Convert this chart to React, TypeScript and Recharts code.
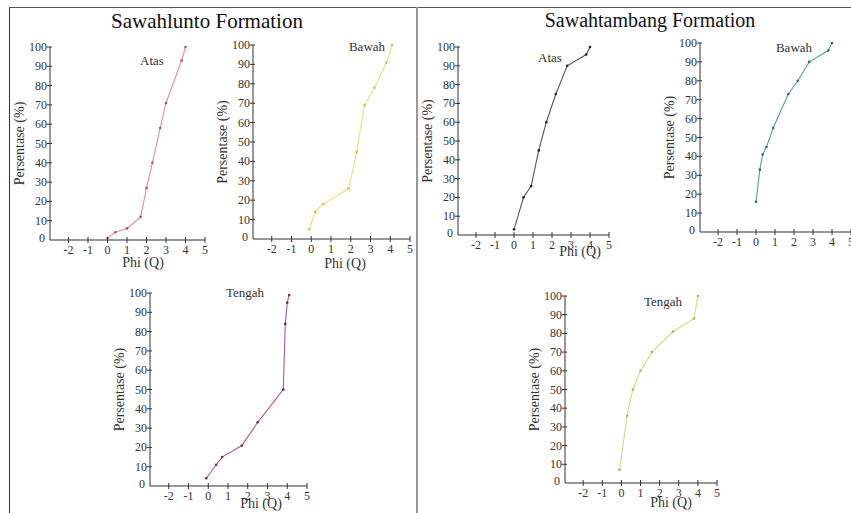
import { LineChart, Line, XAxis, YAxis } from 'recharts'

// grain size cumulative curves
const phiTicks = [-2, -1, 0, 1, 2, 3, 4, 5]
const pctTicks = [0, 10, 20, 30, 40, 50, 60, 70, 80, 90, 100]

const slAtasPhi = [0, 0.4, 1, 1.7, 2, 2.3, 2.7, 3, 3.8, 4]
const slAtasPct = [1, 4, 6, 12, 27, 40, 58, 71, 93, 100]

const slBawahPhi = [-0.1, 0.2, 0.6, 1.9, 2.3, 2.7, 3.2, 3.8, 4.1]
const slBawahPct = [5, 14, 18, 26, 45, 69, 78, 91, 100]

const slTengahPhi = [-0.1, 0.4, 0.7, 1.7, 2.5, 3.8, 3.9, 4, 4.1]
const slTengahPct = [4, 11, 15, 21, 33, 50, 84, 95, 99]

const stAtasPhi = [0, 0.5, 0.9, 1.3, 1.7, 2.2, 2.8, 3.8, 4]
const stAtasPct = [3, 20, 26, 45, 60, 75, 90, 96, 100]

const stBawahPhi = [0, 0.2, 0.35, 0.55, 0.9, 1.7, 2.2, 2.8, 3.8, 4]
const stBawahPct = [16, 33, 41, 45, 55, 73, 80, 90, 96, 100]

const stTengahPhi = [-0.1, 0.3, 0.6, 1, 1.6, 2.7, 3.8, 4]
const stTengahPct = [7, 36, 50, 60, 70, 81, 88, 100]

const FONT = '"Liberation Serif", "DejaVu Serif", serif'
const TXT = '#333'

type Cfg = {
  name: string
  phi: number[]
  pct: number[]
  color: string
  dot: string
  x0: number
  x1: number
  yTop: number
  yBot: number
  nameX: number
  nameY: number
  phiX?: number
  phiY?: number
}

const charts: Cfg[] = [
  { name: 'Atas', phi: slAtasPhi, pct: slAtasPct, color: '#e88c9c', dot: '#b05060', x0: 50, x1: 205, yTop: 47, yBot: 240, nameX: 152, nameY: 65, phiX: 143, phiY: 267 },
  { name: 'Bawah', phi: slBawahPhi, pct: slBawahPct, color: '#e6e07a', dot: '#c8c050', x0: 253, x1: 410, yTop: 45, yBot: 239, nameX: 367, nameY: 51, phiX: 345, phiY: 268 },
  { name: 'Tengah', phi: slTengahPhi, pct: slTengahPct, color: '#ad5893', dot: '#702858', x0: 150, x1: 307, yTop: 293, yBot: 486, nameX: 245, nameY: 297, phiX: 261, phiY: 508 },
  { name: 'Atas', phi: stAtasPhi, pct: stAtasPct, color: '#555555', dot: '#222222', x0: 458, x1: 609, yTop: 47, yBot: 235, nameX: 550, nameY: 62, phiX: 580, phiY: 256 },
  { name: 'Bawah', phi: stBawahPhi, pct: stBawahPct, color: '#5a9e90', dot: '#2e6e62', x0: 700, x1: 851, yTop: 43, yBot: 232, nameX: 794, nameY: 52 },
  { name: 'Tengah', phi: stTengahPhi, pct: stTengahPct, color: '#d0dc8c', dot: '#a8b860', x0: 565, x1: 717, yTop: 296, yBot: 483, nameX: 663, nameY: 306, phiX: 671, phiY: 507 },
]

// outer margins; the axes themselves take 1px each
const ML = 45
const MT = 20
const MR = 20
const MB = 30

function XTick({ x, y, payload }: any) {
  return (
    <g>
      <line x1={x} x2={x} y1={y - 3} y2={y + 3} stroke={TXT} />
      <text x={x} y={y + 14} textAnchor="middle" fontSize={12} fontFamily={FONT} fill={TXT}>
        {payload.value}
      </text>
    </g>
  )
}

function YTick({ x, y, payload }: any) {
  const zero = payload.value === 0
  return (
    <g>
      {!zero && <line x1={x - 3} x2={x + 2} y1={y} y2={y} stroke={TXT} />}
      <text x={zero ? x - 5 : x - 3} y={zero ? y + 2 : y + 4} textAnchor="end" fontSize={12} fontFamily={FONT} fill={TXT}>
        {payload.value}
      </text>
    </g>
  )
}

function MiniChart({ c }: { c: Cfg }) {
  const data = c.phi.map((p, i) => ({ phi: p, pct: c.pct[i] }))
  const w = c.x1 - c.x0 + ML + MR
  const h = c.yBot - c.yTop + MT + MB
  return (
    <div style={{ position: 'absolute', left: c.x0 - ML, top: c.yTop - MT }}>
      <LineChart
        width={w}
        height={h}
        data={data}
        margin={{ top: MT, right: MR, left: ML - 1, bottom: MB - 1 }}
        style={{ overflow: 'visible' }}
      >
        <XAxis
          dataKey="phi"
          type="number"
          domain={[-2.95, 5]}
          ticks={phiTicks}
          height={1}
          tickSize={0}
          tickMargin={0}
          tickLine={false}
          tick={<XTick />}
          axisLine={{ stroke: TXT }}
          interval={0}
          allowDataOverflow
        />
        <YAxis
          dataKey="pct"
          type="number"
          domain={[0, 100]}
          ticks={pctTicks}
          width={1}
          tickSize={0}
          tickMargin={0}
          tickLine={false}
          tick={<YTick />}
          axisLine={{ stroke: TXT }}
          interval={0}
        />
        <Line
          type="linear"
          dataKey="pct"
          stroke={c.color}
          strokeWidth={1.1}
          dot={{ r: 1.3, fill: c.dot, stroke: 'none' }}
          isAnimationActive={false}
        />
      </LineChart>
    </div>
  )
}

export default function App() {
  return (
    <div style={{ position: 'absolute', left: 0, top: 0, width: 851, height: 513, overflow: 'hidden', background: '#fff', fontFamily: FONT }}>
      {/* panel frames */}
      <div style={{ position: 'absolute', left: 9, top: 7, width: 842, height: 505, borderTop: '1.5px solid #555', borderLeft: '1.5px solid #333', borderBottom: '1px solid #ccc' }} />
      <div style={{ position: 'absolute', left: 416, top: 7, width: 2, height: 506, background: '#999' }} />

      {charts.map((c, i) => (
        <MiniChart key={i} c={c} />
      ))}

      <svg width={851} height={513} style={{ position: 'absolute', left: 0, top: 0, pointerEvents: 'none' }}>
        <text x={207} y={28} textAnchor="middle" fontSize={21} fontFamily={FONT} fill="#111">
          Sawahlunto Formation
        </text>
        <text x={650} y={27} textAnchor="middle" fontSize={20} fontFamily={FONT} fill="#111">
          Sawahtambang Formation
        </text>
        {charts.map((c, i) => {
          const cy = (c.yTop + c.yBot) / 2
          const lx = c.x0 - 31
          return (
            <g key={i}>
              <text x={c.nameX} y={c.nameY} textAnchor="middle" fontSize={13} fontFamily={FONT} fill={TXT}>
                {c.name}
              </text>
              <text
                x={lx}
                y={cy}
                textAnchor="middle"
                dominantBaseline="central"
                transform={`rotate(-90 ${lx} ${cy})`}
                fontSize={14}
                fontFamily={FONT}
                fill={TXT}
              >
                Persentase (%)
              </text>
              {c.phiX !== undefined && (
                <text x={c.phiX} y={c.phiY} textAnchor="middle" fontSize={14} fontFamily={FONT} fill={TXT}>
                  Phi (Q)
                </text>
              )}
            </g>
          )
        })}
      </svg>
    </div>
  )
}
